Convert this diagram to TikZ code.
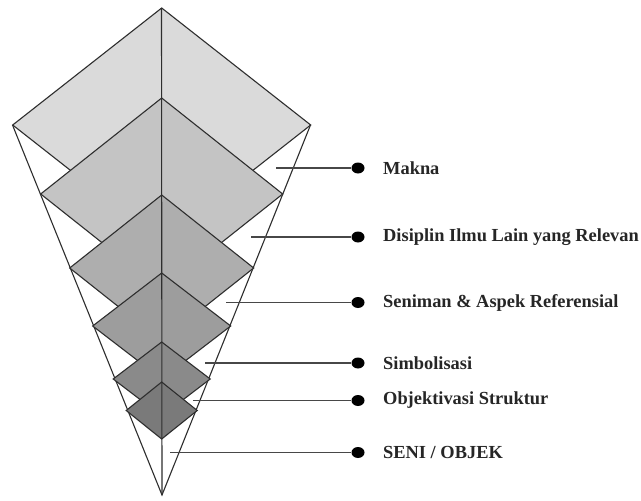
\documentclass[tikz,border=0pt]{standalone}
\usepackage{fontspec}
\setmainfont{Liberation Serif}
\usetikzlibrary{shapes.geometric}
\begin{document}
\begin{tikzpicture}[x=1pt,y=-1pt,
  edge/.style={draw=black!82,line width=1.1pt,line join=miter},
  leader/.style={draw=black!72,line width=1.4pt},
  dot/.style={ellipse,fill=black,inner sep=0pt,minimum width=13pt,minimum height=11pt},
  lbl/.style={anchor=west,font=\fontsize{18.4}{20}\selectfont\bfseries,text=black!85,inner sep=0pt}]
\path[use as bounding box,fill=white] (0,0) rectangle (641,501);
% cone
\coordinate (T) at (161.5,8);
\coordinate (L) at (12.5,125);
\coordinate (R) at (310.5,125);
\coordinate (A) at (162,495);
\draw[edge] (L) -- (A) -- (R);
% diamonds (top, halfwidth, halfheight, colour)
\foreach \t/\w/\h/\c in {8/149/117/DADADA, 98/121/96/C4C4C4, 195/92/73/AEAEAE, 273/69/53/9D9D9D, 342/48.5/37/8A8A8A, 382/35.5/28.5/7A7A7A}{
  \definecolor{dc}{HTML}{\c}
  \filldraw[edge,fill=dc] (161.7,\t) -- ++(\w,\h) -- ++(-\w,\h) -- ++(-\w,-\h) -- cycle;
}
\draw[edge] (T) -- (A);
% leaders
\foreach \n/\y/\x/\txt in {1/168/276/{Makna}, 2/237/251/{Disiplin Ilmu Lain yang Relevan}, 3/302.5/226/{Seniman \& Aspek Referensial}, 4/363/205/{Simbolisasi}, 5/400.5/193/{Objektivasi Struktur}, 6/452.5/170/{SENI / OBJEK}}{
  \coordinate (s\n) at (\x,\y);
  \node[dot] (d\n) at (358,\y) {};
  \node[lbl] (t\n) at (383,\y) {\txt};
  \draw[leader] (s\n) -- (d\n);
}
\end{tikzpicture}
\end{document}
